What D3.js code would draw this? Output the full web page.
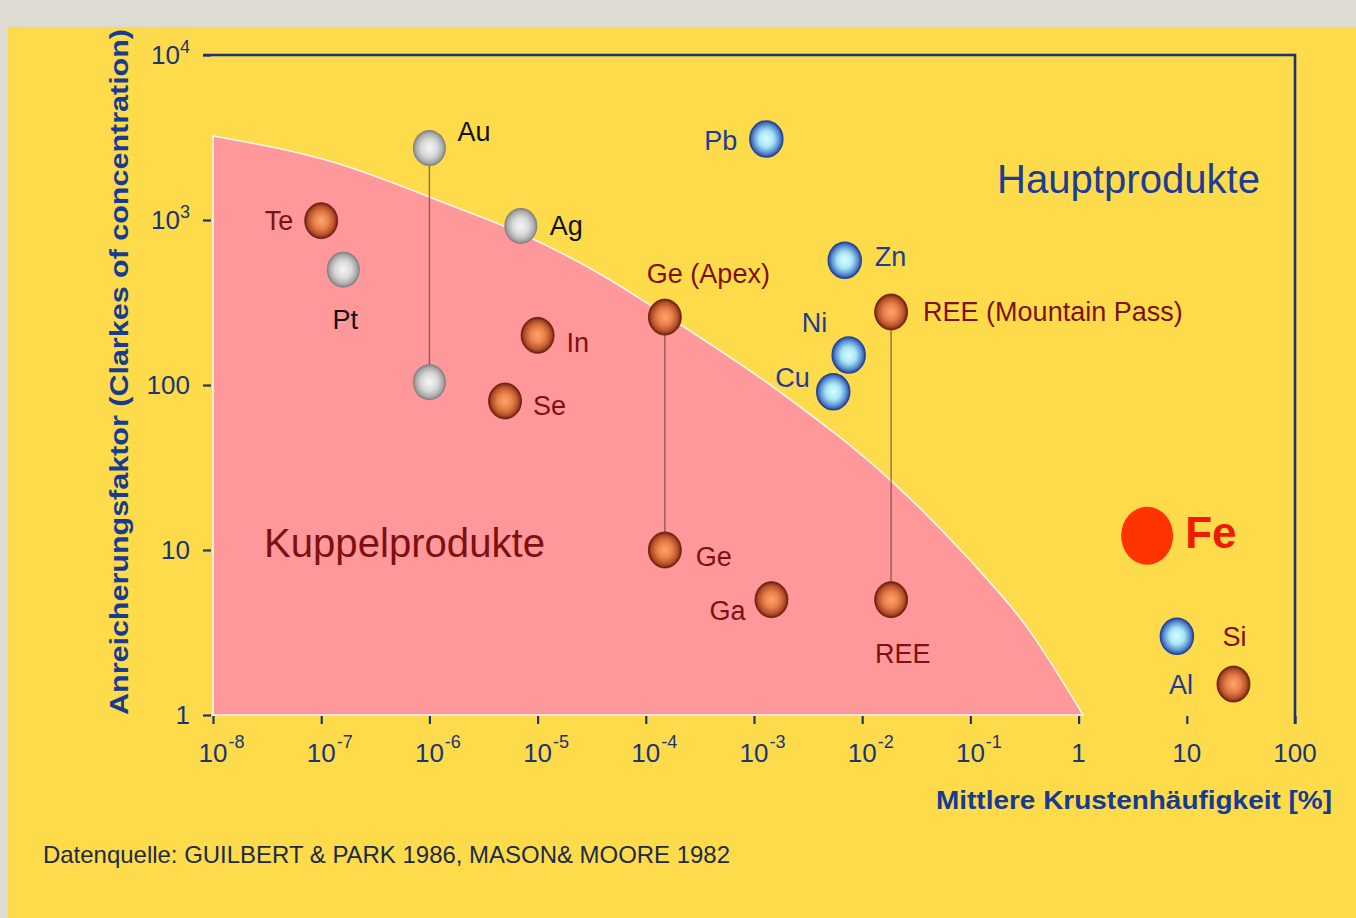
<!DOCTYPE html>
<html><head><meta charset="utf-8">
<script src="https://cdn.jsdelivr.net/npm/d3@7"></script>
<style>
html,body{margin:0;padding:0;background:#dedbd3;}
svg{display:block;font-family:"Liberation Sans",Arial,sans-serif;}
</style></head>
<body>
<svg id="c" width="1356" height="918"></svg>
<script>
// ---------- data ----------
const elements   = ["Te","Pt","Au","Au","Ag","In","Se","Ge (Apex)","Ge","Ga","REE (Mountain Pass)","REE","Pb","Zn","Ni","Cu","Fe","Al","Si"];
const abundance  = [1e-7,1.6e-7,1e-6,1e-6,7e-6,1e-5,5e-6,1.5e-4,1.5e-4,1.45e-3,1.85e-2,1.85e-2,1.3e-3,6.9e-3,7.5e-3,5.4e-3,4.3,8.1,27];
const enrichment = [990,500,2730,104,920,200,80,258,10,5,277,5,3100,570,152,91,12.2,3.0,1.54];
const groups     = ["brown","gray","gray","gray","gray","brown","brown","brown","brown","brown","brown","brown","blue","blue","blue","blue","iron","blue","brown"];
const links      = [[2,3],[7,8],[10,11]];
// by-product boundary (abundance %, enrichment)
const boundaryX  = [1e-8,1.28e-7,1.55e-6,7.2e-6,3.78e-5,1.57e-4,1.74e-3,1.81e-2,0.093,0.333,1.1];
const boundaryY  = [3230,2247,1233,822,471,262,90.7,26.6,9.07,3.41,1];
const xTicks     = [1e-8,1e-7,1e-6,1e-5,1e-4,1e-3,1e-2,1e-1,1,10,100];
const xTickBase  = ["10","10","10","10","10","10","10","10","1","10","100"];
const xTickExp   = ["-8","-7","-6","-5","-4","-3","-2","-1","","",""];
const yTicks     = [1,10,100,1000,10000];
const yTickBase  = ["1","10","100","10","10"];
const yTickExp   = ["","","","3","4"];

// label layout (offsets from marker centre)
const labelLayout = [
 {dx:-28,dy:0,a:"end"},{dx:2,dy:50,a:"middle"},{dx:28,dy:-17,a:"start"},null,
 {dx:29,dy:0,a:"start"},{dx:29,dy:7,a:"start"},{dx:28,dy:5,a:"start"},
 {dx:-18,dy:-44,a:"start"},{dx:31,dy:6,a:"start"},{dx:-26,dy:11,a:"end"},
 {dx:32,dy:0,a:"start"},{dx:-16,dy:54,a:"start"},{dx:-29,dy:2,a:"end"},
 {dx:30,dy:-4,a:"start"},{dx:-47,dy:-32,a:"start"},{dx:-58,dy:-14,a:"start"},
 {dx:38,dy:-3,a:"start"},{dx:-8,dy:48,a:"start"},{dx:-11,dy:-48,a:"start"}
];

const navy="#1b3476", blueText="#1e3c96", redText="#7f1010";
const labelColor={brown:redText,gray:"#111",blue:blueText,iron:"#f01a00"};

const svg=d3.select("#c");
// yellow panel
svg.append("rect").attr("x",8).attr("y",27).attr("width",1348).attr("height",891).attr("fill","#fedb4a");

const x=d3.scaleLog().domain([1e-8,100]).range([213,1295]);
const y=d3.scaleLog().domain([1,1e4]).range([715,55]);

// gradients
const defs=svg.append("defs");
function grad(id,stops){
  const g=defs.append("radialGradient").attr("id",id).attr("cx","50%").attr("cy","50%").attr("r","50%");
  stops.forEach(s=>g.append("stop").attr("offset",s[0]).attr("stop-color",s[1]));
}
grad("g-brown",[["0%","#ffa56e"],["45%","#e98049"],["80%","#b4502a"],["100%","#6a1c0c"]]);
grad("g-gray",[["0%","#f6f6f6"],["50%","#d8d8d8"],["82%","#aaaaaa"],["100%","#7a7a7a"]]);
grad("g-blue",[["0%","#dcfdff"],["45%","#a8e6f6"],["78%","#5d93d2"],["100%","#2a4aa0"]]);

// by-product region: straight left and bottom edges, smooth boundary curve
const curvePts=boundaryX.map((v,i)=>[x(v),y(boundaryY[i])]);
const curvePath=d3.line().curve(d3.curveMonotoneX)(curvePts);
svg.append("path")
  .attr("d","M"+x(1e-8)+","+y(1)+"L"+curvePts[0][0]+","+curvePts[0][1]+curvePath.replace(/^M[^CL]*/,"")+"Z")
  .attr("fill","#fe989a").attr("stroke","#fff4ee").attr("stroke-width",1.6).attr("stroke-linejoin","round");

// frame: top & right
svg.append("line").attr("x1",203).attr("x2",x(100)).attr("y1",y(1e4)).attr("y2",y(1e4)).attr("stroke",navy).attr("stroke-width",2.6);
svg.append("line").attr("x1",x(100)).attr("x2",x(100)).attr("y1",y(1e4)-1.3).attr("y2",724).attr("stroke",navy).attr("stroke-width",2.6);

// x axis
const xa=svg.append("g").attr("transform","translate(0,716)")
  .call(d3.axisBottom(x).tickValues(xTicks).tickSize(8).tickFormat(""));
xa.select(".domain").remove();
xa.selectAll(".tick line").attr("stroke",navy).attr("stroke-width",2.2);
xTicks.forEach((t,i)=>{
  const tx=svg.append("text").attr("x",x(t)).attr("y",762).attr("text-anchor","middle")
    .attr("font-size",26).attr("fill",navy).text(xTickBase[i]);
  if(xTickExp[i]){
    const w=tx.node().getComputedTextLength();
    svg.append("text").attr("x",x(t)+w/2+1).attr("y",748).attr("font-size",18).attr("fill",navy).text(xTickExp[i]);
  }
});
// y axis
const ya=svg.append("g").attr("transform","translate(211,0)")
  .call(d3.axisLeft(y).tickValues(yTicks).tickSize(8).tickFormat(""));
ya.select(".domain").remove();
ya.selectAll(".tick line").attr("stroke",navy).attr("stroke-width",2.2);
yTicks.forEach((t,i)=>{
  const tt=svg.append("text").attr("x",190).attr("y",y(t)+9).attr("text-anchor","end")
    .attr("font-size",26).attr("fill",navy);
  tt.append("tspan").text(yTickBase[i]);
  if(yTickExp[i]) tt.append("tspan").attr("dy",-11).attr("font-size",18).text(yTickExp[i]);
});

// axis titles
svg.append("text").attr("transform","translate(128,372) rotate(-90)").attr("text-anchor","middle")
  .attr("font-size",26).attr("font-weight","bold").attr("fill","#173b91")
  .attr("textLength",686).attr("lengthAdjust","spacingAndGlyphs")
  .text("Anreicherungsfaktor (Clarkes of concentration)");
svg.append("text").attr("x",936).attr("y",809).attr("font-size",25).attr("font-weight","bold").attr("fill","#173b91")
  .attr("textLength",396).attr("lengthAdjust","spacingAndGlyphs").text("Mittlere Krustenhäufigkeit [%]");

// region labels
svg.append("text").attr("x",997).attr("y",193).attr("font-size",40).attr("fill",blueText)
  .attr("textLength",263).attr("lengthAdjust","spacingAndGlyphs").text("Hauptprodukte");
svg.append("text").attr("x",264).attr("y",557).attr("font-size",41).attr("fill",redText)
  .attr("textLength",281).attr("lengthAdjust","spacingAndGlyphs").text("Kuppelprodukte");

// source
svg.append("text").attr("x",43).attr("y",863).attr("font-size",24).attr("fill","#1c2a48")
  .attr("textLength",687).attr("lengthAdjust","spacingAndGlyphs")
  .text("Datenquelle: GUILBERT & PARK 1986, MASON& MOORE 1982");

// connectors
svg.selectAll("line.link").data(links).join("line").attr("class","link")
  .attr("x1",d=>x(abundance[d[0]])).attr("x2",d=>x(abundance[d[1]]))
  .attr("y1",d=>y(enrichment[d[0]])).attr("y2",d=>y(enrichment[d[1]]))
  .attr("stroke","#6e4a3a").attr("stroke-opacity",0.75).attr("stroke-width",1.4);

// markers
const idx=d3.range(elements.length);
svg.selectAll("ellipse.pt").data(idx).join("ellipse").attr("class","pt")
  .attr("cx",i=>x(abundance[i])).attr("cy",i=>y(enrichment[i]))
  .attr("rx",i=>groups[i]==="iron"?26:16.5).attr("ry",i=>groups[i]==="iron"?29:18)
  .attr("fill",i=>groups[i]==="iron"?"#ff3300":"url(#g-"+groups[i]+")")
  .attr("stroke",i=>groups[i]==="blue"?"#26449a":(groups[i]==="brown"?"#6a1c0c":"none"))
  .attr("stroke-width",i=>groups[i]==="blue"?1.5:0.8);

// labels
idx.forEach(i=>{
  const L=labelLayout[i]; if(!L) return;
  const iron=groups[i]==="iron";
  svg.append("text").attr("x",x(abundance[i])+L.dx).attr("y",y(enrichment[i])+L.dy+(iron?15:9.5))
    .attr("text-anchor",L.a).attr("font-size",iron?44:27).attr("font-weight",iron?"bold":"normal")
    .attr("fill",labelColor[groups[i]]).text(elements[i]);
});
</script>
</body></html>
